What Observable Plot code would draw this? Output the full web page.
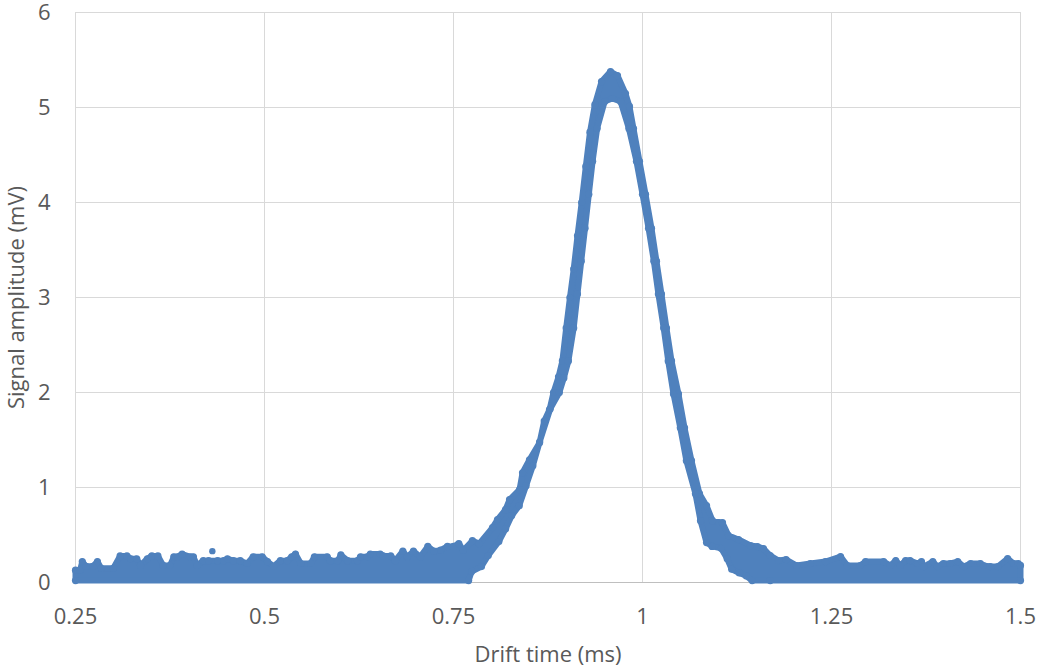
<!DOCTYPE html>
<html><head><meta charset="utf-8">
<script src="https://cdn.jsdelivr.net/npm/d3@7"></script>
<script src="https://cdn.jsdelivr.net/npm/@observablehq/plot@0.6"></script>
<style>body{margin:0;background:#fff;}</style>
</head><body><div id="chart"></div>
<script>
// Tick values
const xTicks = [0.25, 0.5, 0.75, 1, 1.25, 1.5];
const yTicks = [0, 1, 2, 3, 4, 5, 6];

// Upper envelope of the dense point cloud (drift time ms, amplitude mV), left to right
const upperEdge = [
  [0.250,0.13],[0.256,0.13],[0.259,0.22],[0.264,0.17],[0.273,0.17],[0.279,0.22],[0.284,0.15],[0.300,0.15],
  [0.309,0.28],[0.318,0.28],[0.323,0.25],[0.331,0.25],[0.336,0.18],[0.345,0.25],[0.351,0.28],[0.359,0.28],
  [0.366,0.18],[0.375,0.18],[0.380,0.27],[0.385,0.27],[0.391,0.30],[0.402,0.27],[0.406,0.27],[0.411,0.18],
  [0.419,0.23],[0.426,0.23],[0.438,0.23],[0.446,0.23],[0.451,0.25],[0.459,0.23],[0.468,0.23],[0.477,0.20],
  [0.485,0.27],[0.497,0.27],[0.504,0.22],[0.512,0.17],[0.521,0.23],[0.530,0.23],[0.536,0.27],[0.541,0.30],
  [0.548,0.20],[0.561,0.20],[0.566,0.27],[0.583,0.27],[0.587,0.23],[0.597,0.23],[0.601,0.29],[0.610,0.23],
  [0.623,0.23],[0.627,0.27],[0.636,0.27],[0.640,0.30],[0.653,0.30],[0.657,0.28],[0.667,0.28],[0.673,0.23],
  [0.683,0.33],[0.689,0.27],[0.697,0.33],[0.706,0.27],[0.716,0.38],[0.724,0.33],[0.733,0.34],[0.742,0.38],
  [0.750,0.38],[0.757,0.41],[0.763,0.34],[0.775,0.44],[0.784,0.41],
  [0.8016,0.578],[0.8082,0.662],[0.8188,0.767],[0.8241,0.872],[0.8373,0.977],[0.8413,1.155],[0.8505,1.292],
  [0.8638,1.471],[0.8700,1.700],[0.8770,1.820],[0.8823,2.000],[0.8889,2.164],[0.8940,2.332],[0.8990,2.679],
  [0.9040,3.000],[0.9090,3.300],[0.9140,3.650],[0.9195,4.000],[0.9250,4.380],[0.9305,4.740],[0.9370,5.030],
  [0.9458,5.273],[0.9577,5.378],[0.9669,5.336],[0.9775,5.147],[0.9828,5.011],[0.9881,4.779],[0.9960,4.433],
  [1.0040,4.086],[1.0119,3.729],[1.0185,3.382],[1.0251,3.036],[1.0317,2.679],[1.0384,2.332],[1.0476,1.985],
  [1.0556,1.628],[1.0648,1.282],[1.0754,0.935],[1.0847,0.809],[1.0926,0.651],[1.1058,0.630],[1.1138,0.494],
  [1.127,0.452],[1.1429,0.389],[1.152,0.378],[1.160,0.357],[1.169,0.284],[1.180,0.231],[1.190,0.242],
  [1.204,0.179],[1.222,0.20],[1.242,0.22],[1.262,0.273],[1.271,0.179],[1.288,0.179],[1.295,0.22],[1.319,0.22],
  [1.328,0.179],[1.335,0.231],[1.341,0.179],[1.348,0.231],[1.354,0.231],[1.364,0.20],[1.369,0.22],[1.372,0.168],
  [1.384,0.22],[1.390,0.168],[1.398,0.20],[1.407,0.20],[1.417,0.22],[1.425,0.168],[1.434,0.20],[1.447,0.20],
  [1.451,0.179],[1.460,0.168],[1.470,0.168],[1.483,0.252],[1.491,0.20],[1.497,0.20],[1.500,0.18]
];

// Lower envelope of the point cloud, right to left
const lowerEdge = [
  [1.500,0.02],[1.169,0.02],[1.145,0.02],[1.137,0.07],[1.128,0.10],[1.118,0.14],[1.112,0.25],[1.104,0.36],
  [1.092,0.38],[1.0847,0.42],[1.0767,0.651],[1.070,0.935],[1.058,1.282],[1.050,1.628],[1.041,1.985],
  [1.034,2.332],[1.028,2.679],[1.021,3.036],[1.015,3.382],[1.008,3.729],[1.000,4.086],[0.992,4.433],
  [0.982,4.779],[0.971,5.063],[0.960,5.095],[0.950,5.063],[0.940,4.779],[0.934,4.433],[0.929,4.086],
  [0.924,3.729],[0.919,3.382],[0.914,3.036],[0.909,2.679],[0.902,2.332],[0.896,2.153],[0.890,2.000],
  [0.878,1.828],[0.864,1.481],[0.855,1.229],[0.846,1.019],[0.837,0.809],[0.827,0.704],[0.819,0.567],
  [0.810,0.431],[0.796,0.284],[0.787,0.168],[0.774,0.116],[0.770,0.02],[0.250,0.02]
];

// Isolated points above the cloud
const outlierTime = [0.431];
const outlierAmp = [0.33];

const blue = "#4F81BD";
const band = [...upperEdge, ...lowerEdge, upperEdge[0]].map(([t, a]) => ({t, a}));
const edgePoints = [...upperEdge, ...lowerEdge].map(([t, a]) => ({t, a}));
const outliers = outlierTime.map((t, i) => ({t, a: outlierAmp[i]}));

const chart = Plot.plot({
  width: 1040,
  height: 672,
  marginLeft: 75,
  marginRight: 20,
  marginTop: 12,
  marginBottom: 90,
  style: {fontFamily: "'Open Sans', sans-serif", fontSize: "22px", color: "#595959", background: "#fff"},
  x: {domain: [0.25, 1.5]},
  y: {domain: [0, 6]},
  marks: [
    Plot.gridX(xTicks, {stroke: "#D9D9D9", strokeOpacity: 1, strokeWidth: 1}),
    Plot.gridY(yTicks.filter(d => d > 0), {stroke: "#D9D9D9", strokeOpacity: 1, strokeWidth: 1}),
    Plot.ruleY([0], {stroke: "#BFBFBF", strokeWidth: 1}),
    Plot.line(band, {x: "t", y: "a", fill: blue, stroke: blue, strokeWidth: 6, strokeLinejoin: "round", curve: "linear"}),
    Plot.dot(edgePoints, {x: "t", y: "a", r: 3.6, fill: blue}),
    Plot.dot(outliers, {x: "t", y: "a", r: 3.2, fill: blue}),
    Plot.axisX(xTicks, {tickSize: 0, tickPadding: 26, label: null, tickFormat: d => String(d)}),
    Plot.axisY(yTicks, {tickSize: 0, tickPadding: 25, label: null, tickFormat: d => String(d)}),
    Plot.text(["Drift time (ms)"], {text: d => d, frameAnchor: "bottom", dy: 72, lineAnchor: "middle", textAnchor: "middle"}),
    Plot.text(["Signal amplitude (mV)"], {text: d => d, frameAnchor: "left", dx: -59, rotate: -90, textAnchor: "middle", lineAnchor: "middle"})
  ]
});
document.getElementById("chart").appendChild(chart);
</script>
</body></html>
